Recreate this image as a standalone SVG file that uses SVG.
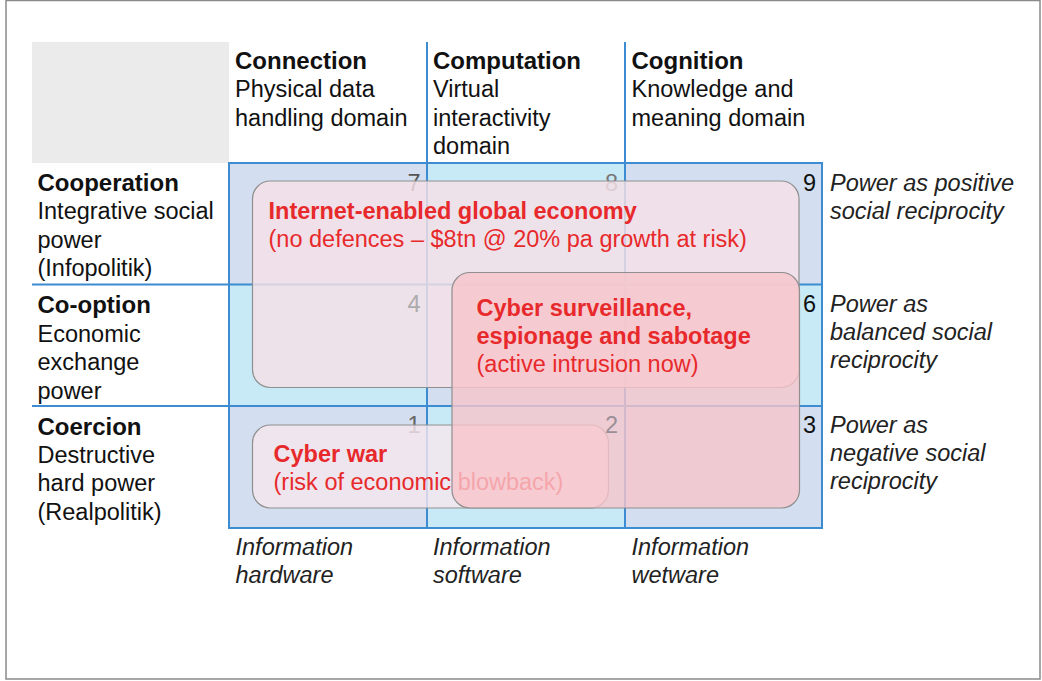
<svg xmlns="http://www.w3.org/2000/svg" width="1042" height="681" viewBox="0 0 1042 681">
  <style>
    text { font-family: "Liberation Sans", Arial, Helvetica, sans-serif; font-size: 23.5px; fill: #111; }
    .b { font-weight: bold; }
    .h { font-size: 24px; }
    .i { font-style: italic; fill: #222; }
    .red { fill: #e8292b; }
    .num { text-anchor: end; }
    .lav { fill: #d3dff0; }
    .cy { fill: #c8eaf6; }
    .gl { stroke: #3d8bd0; stroke-width: 2; fill: none; }
    .ov { stroke: #8f8f8f; stroke-width: 1.2; }
  </style>
  <rect x="6" y="0.5" width="1034" height="678.5" fill="#fff" stroke="#8a8a8a" stroke-width="1.5"/>
  <rect id="corner" x="32" y="42" width="197" height="121" fill="#ebebeb"/>

  <g id="cells">
    <rect class="lav" x="229" y="163" width="198" height="121"/>
    <rect class="cy" x="427" y="163" width="198" height="121"/>
    <rect class="lav" x="625" y="163" width="197" height="121"/>
    <rect class="cy" x="229" y="284" width="198" height="122"/>
    <rect class="lav" x="427" y="284" width="198" height="122"/>
    <rect class="cy" x="625" y="284" width="197" height="122"/>
    <rect class="lav" x="229" y="406" width="198" height="122"/>
    <rect class="cy" x="427" y="406" width="198" height="122"/>
    <rect class="lav" x="625" y="406" width="197" height="122"/>
  </g>

  <g id="connectors">
    <rect class="gl" x="229" y="163" width="593" height="365"/>
    <line class="gl" x1="427" y1="42" x2="427" y2="528"/>
    <line class="gl" x1="625" y1="42" x2="625" y2="528"/>
    <line class="gl" x1="32" y1="284.5" x2="822" y2="284.5"/>
    <line class="gl" x1="32" y1="406" x2="822" y2="406"/>
  </g>

  <g id="numbers-visible">
    <text class="num" x="816" y="190.5">9</text>
    <text class="num" x="816" y="312">6</text>
    <text class="num" x="816" y="433">3</text>
  </g>

  <g id="col-connection">
    <text class="b h" x="235" y="68.5">Connection</text>
    <text x="235" y="97">Physical data</text>
    <text x="235" y="125.5">handling domain</text>
  </g>
  <g id="col-computation">
    <text class="b h" x="433" y="68.5">Computation</text>
    <text x="433" y="97">Virtual</text>
    <text x="433" y="125.5">interactivity</text>
    <text x="433" y="154">domain</text>
  </g>
  <g id="col-cognition">
    <text class="b h" x="631.5" y="68.5">Cognition</text>
    <text x="631.5" y="97">Knowledge and</text>
    <text x="631.5" y="125.5">meaning domain</text>
  </g>

  <g id="row-cooperation">
    <text class="b h" x="37.5" y="190.5">Cooperation</text>
    <text x="37.5" y="219">Integrative social</text>
    <text x="37.5" y="247.5">power</text>
    <text x="37.5" y="276">(Infopolitik)</text>
  </g>
  <g id="row-cooption">
    <text class="b h" x="37.5" y="313">Co-option</text>
    <text x="37.5" y="341.5">Economic</text>
    <text x="37.5" y="370">exchange</text>
    <text x="37.5" y="398.5">power</text>
  </g>
  <g id="row-coercion">
    <text class="b h" x="37.5" y="434.5">Coercion</text>
    <text x="37.5" y="463">Destructive</text>
    <text x="37.5" y="491">hard power</text>
    <text x="37.5" y="519.5">(Realpolitik)</text>
  </g>

  <g id="right-positive">
    <text class="i" x="830" y="190.5">Power as positive</text>
    <text class="i" x="830" y="218.5">social reciprocity</text>
  </g>
  <g id="right-balanced">
    <text class="i" x="830" y="312">Power as</text>
    <text class="i" x="830" y="340">balanced social</text>
    <text class="i" x="830" y="368">reciprocity</text>
  </g>
  <g id="right-negative">
    <text class="i" x="830" y="433">Power as</text>
    <text class="i" x="830" y="461">negative social</text>
    <text class="i" x="830" y="489">reciprocity</text>
  </g>

  <g id="bottom-hardware">
    <text class="i" x="235.5" y="555">Information</text>
    <text class="i" x="235.5" y="583">hardware</text>
  </g>
  <g id="bottom-software">
    <text class="i" x="433" y="555">Information</text>
    <text class="i" x="433" y="583">software</text>
  </g>
  <g id="bottom-wetware">
    <text class="i" x="631.5" y="555">Information</text>
    <text class="i" x="631.5" y="583">wetware</text>
  </g>

  <g id="numbers-covered">
    <text class="num" x="420.5" y="190.5" style="fill:#555">7</text>
    <text class="num" x="618" y="190.5" style="fill:#777">8</text>
  </g>

  <g id="overlay-economy">
    <rect class="ov" x="252.5" y="181" width="546.5" height="206.5" rx="18" fill="#f5e0e7" fill-opacity="0.82"/>
    <text class="b red" x="268.5" y="218.5">Internet-enabled global economy</text>
    <text class="red" x="268.5" y="246.5">(no defences – $8tn @ 20% pa growth at risk)</text>
  </g>
  <g id="numbers-mid">
    <text class="num" x="420.5" y="312" style="fill:#ababab">4</text>
    <text class="num" x="420.5" y="433" style="fill:#666">1</text>
  </g>
  <g id="overlay-cyberwar">
    <rect class="ov" x="252.5" y="425" width="356" height="83" rx="18" fill="#f6e6ed" fill-opacity="0.8"/>
    <text class="b red" x="273.5" y="461.5">Cyber war</text>
    <text class="red" x="273.5" y="489.5">(risk of economic blowback)</text>
  </g>
  <g id="overlay-surveillance">
    <rect class="ov" x="452" y="272.5" width="347.5" height="235.5" rx="18" fill="#f7c4cb" fill-opacity="0.8"/>
    <text class="b red" x="476.5" y="316">Cyber surveillance,</text>
    <text class="b red" x="476.5" y="344">espionage and sabotage</text>
    <text class="red" x="476.5" y="372">(active intrusion now)</text>
  </g>
  <g id="numbers-top">
    <text class="num" x="618" y="433" style="fill:#9a9096">2</text>
  </g>
</svg>
